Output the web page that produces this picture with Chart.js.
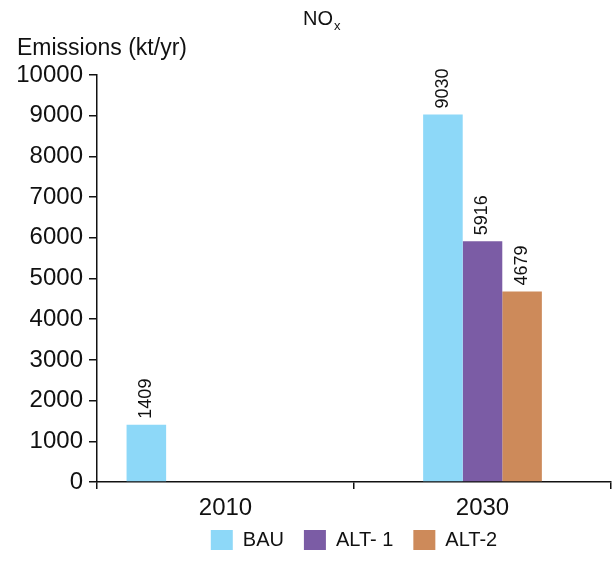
<!DOCTYPE html>
<html>
<head>
<meta charset="utf-8">
<script src="https://cdn.jsdelivr.net/npm/chart.js@4.4.1/dist/chart.umd.min.js"></script>
<style>
  html, body { margin: 0; padding: 0; background: #fff; }
  #wrap { width: 615px; height: 562px; position: relative; }
</style>
</head>
<body>
<div id="wrap"><canvas id="c" width="615" height="562"></canvas></div>
<script>
// NOx emissions by scenario (kt/yr)
const categories = ['2010', '2030'];
const seriesNames = ['BAU', 'ALT- 1', 'ALT-2'];
const bau  = [1409, 9030];
const alt1 = [null, 5916];
const alt2 = [null, 4679];
const yTickValues = [0, 1000, 2000, 3000, 4000, 5000, 6000, 7000, 8000, 9000, 10000];
const yTickLabels = ['0', '1000', '2000', '3000', '4000', '5000', '6000', '7000', '8000', '9000', '10000'];

const colors = { bau: '#8DD8F8', alt1: '#7B5CA5', alt2: '#CD8A5A' };
const FONT = "'Liberation Sans', Arial, sans-serif";
const INK = '#111';

// BAU 2010 sits in its own slot, left of the 2030 scenario group
const datasets = [
  { label: seriesNames[0], data: [bau[0], null], backgroundColor: colors.bau, key: 'legend' },
  { label: seriesNames[0], data: [null, bau[1]], backgroundColor: colors.bau },
  { label: seriesNames[1], data: alt1, backgroundColor: colors.alt1, key: 'legend' },
  { label: seriesNames[2], data: alt2, backgroundColor: colors.alt2, key: 'legend' },
  { label: '', data: [null, null], backgroundColor: 'rgba(0,0,0,0)' }
];

// Rotated value labels above each bar
const valueLabels = {
  id: 'valueLabels',
  afterDatasetsDraw(chart) {
    const ctx = chart.ctx;
    ctx.save();
    ctx.fillStyle = INK;
    ctx.font = '18px ' + FONT;
    ctx.textAlign = 'left';
    ctx.textBaseline = 'middle';
    chart.data.datasets.forEach((ds, di) => {
      const meta = chart.getDatasetMeta(di);
      meta.data.forEach((el, i) => {
        const v = ds.data[i];
        if (v === null || v === undefined) return;
        ctx.save();
        ctx.translate(el.x, el.y - 6);
        ctx.rotate(-Math.PI / 2);
        ctx.fillText(String(v), 0, 0);
        ctx.restore();
      });
    });
    ctx.restore();
  }
};

// Chart heading (NOx) and y-axis caption above the axis
const headings = {
  id: 'headings',
  afterDraw(chart) {
    const ctx = chart.ctx;
    ctx.save();
    ctx.fillStyle = INK;
    ctx.textAlign = 'left';
    ctx.textBaseline = 'alphabetic';
    ctx.font = '20px ' + FONT;
    const nx = 303, ny = 25;
    ctx.fillText('NO', nx, ny);
    const w = ctx.measureText('NO').width;
    ctx.font = '13px ' + FONT;
    ctx.fillText('x', nx + w + 1, ny + 5);
    ctx.font = '23px ' + FONT;
    ctx.fillText('Emissions (kt/yr)', 17, 55);
    ctx.restore();
  }
};

// Pull the legend row up, closer to the category labels
const legendLift = {
  id: 'legendLift',
  afterLayout(chart) {
    const lg = chart.legend;
    if (!lg) return;
    lg.top -= 14;
    lg.bottom -= 14;
  }
};

new Chart(document.getElementById('c'), {
  type: 'bar',
  data: { labels: categories, datasets },
  options: {
    responsive: false,
    animation: false,
    devicePixelRatio: 1,
    layout: { padding: { top: 75, left: 10, right: 4, bottom: -12 } },
    datasets: { bar: { categoryPercentage: 0.77, barPercentage: 1.0, borderWidth: 0 } },
    scales: {
      x: {
        type: 'category',
        grid: { offset: true, drawOnChartArea: false, drawTicks: true, tickLength: 7, color: INK, lineWidth: 1.5 },
        border: { color: INK, width: 1.5 },
        ticks: { color: INK, font: { family: FONT, size: 24 }, padding: 5 },
        afterFit(scale) { scale.height = 42; }
      },
      y: {
        min: 0,
        max: 10000,
        afterBuildTicks(scale) { scale.ticks = yTickValues.map(v => ({ value: v })); },
        grid: { drawOnChartArea: false, drawTicks: true, tickLength: 8, color: INK, lineWidth: 1.5 },
        border: { color: INK, width: 1.5 },
        ticks: {
          color: INK,
          font: { family: FONT, size: 24 },
          padding: 6,
          callback: (value) => yTickLabels[yTickValues.indexOf(value)]
        },
        afterFit(scale) { scale.width = 87; }
      }
    },
    plugins: {
      title: { display: false },
      tooltip: { enabled: false },
      legend: {
        display: true,
        position: 'bottom',
        fullSize: false,
        labels: {
          color: INK,
          font: { family: FONT, size: 20 },
          boxWidth: 22,
          boxHeight: 20,
          padding: 20,
          filter: (item, data) => data.datasets[item.datasetIndex].key === 'legend'
        }
      }
    }
  },
  plugins: [valueLabels, headings, legendLift]
});
</script>
</body>
</html>
